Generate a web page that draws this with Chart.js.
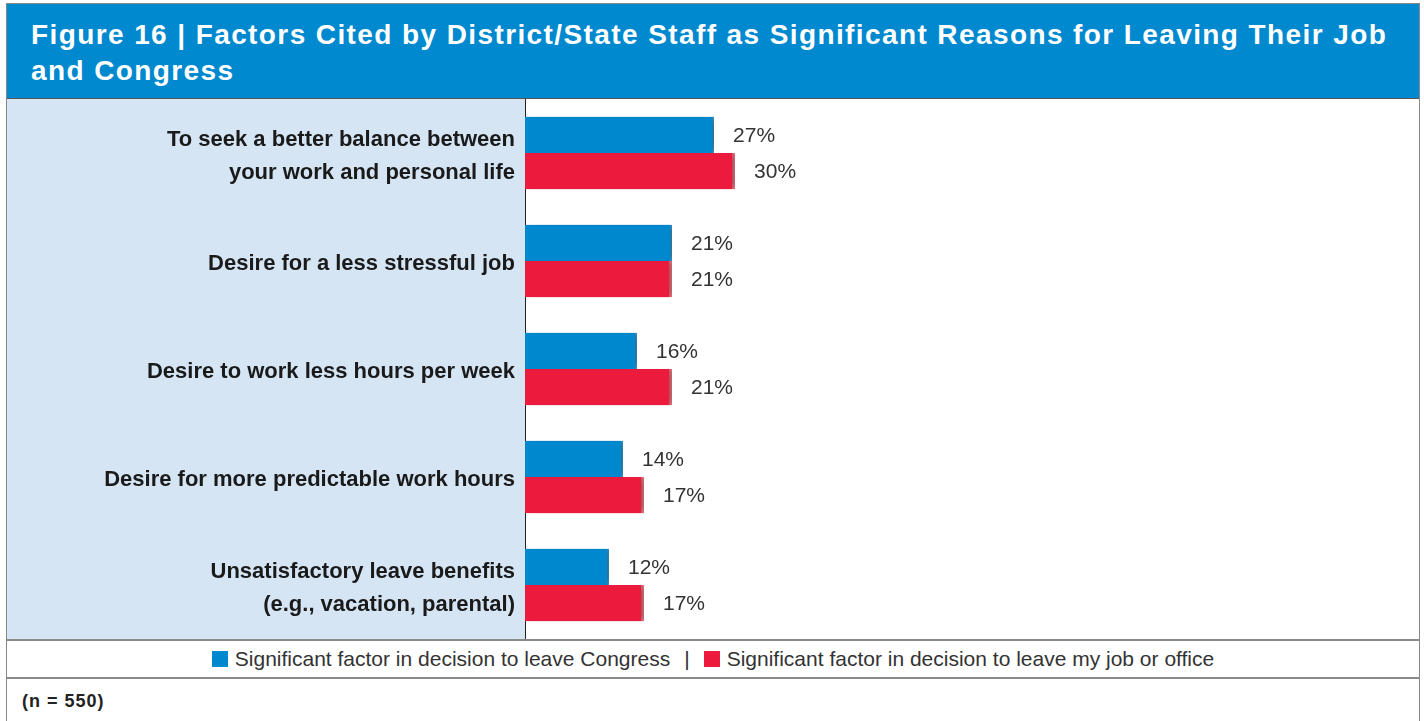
<!DOCTYPE html>
<html>
<head>
<meta charset="utf-8">
<title>Figure 16</title>
<script src="https://cdn.jsdelivr.net/npm/chart.js@4"></script>
<style>
  html, body { margin: 0; padding: 0; background: #fff; }
  body { width: 1424px; height: 721px; position: relative; overflow: hidden; }
  #frame {
    position: absolute; left: 6px; top: 3px; width: 1412px; height: 730px;
    border: 1px solid #888;
  }
  #title {
    height: 95px; background: #0089cf; border-bottom: 1px solid #555;
    color: #fff; font-family: "Liberation Sans", Arial, sans-serif; font-weight: bold;
    font-size: 28px; letter-spacing: 1.4px; line-height: 36px; padding: 13px 10px 0 24px; box-sizing: border-box;
    white-space: nowrap;
  }
  #chartBox { position: relative; height: 540px; width: 1412px; }
  #legend {
    height: 36px; border-top: 2px solid #8a8a8a; border-bottom: 2px solid #8a8a8a;
    display: flex; justify-content: center; align-items: center;
    font-family: "Liberation Sans Narrow", "Arial Narrow", sans-serif; font-size: 21px; color: #333;
  }
  #legend .box { display: inline-block; width: 16px; height: 16px; margin-right: 7px; }
  #legend .sep { margin: 0 14px; }
  #note {
    padding: 12px 0 0 15px; font-family: "Liberation Sans", Arial, sans-serif;
    font-weight: bold; font-size: 18px; letter-spacing: 1px; color: #222;
  }
</style>
</head>
<body>
<div id="frame">
  <div id="title">Figure 16 | Factors Cited by District/State Staff as Significant Reasons for Leaving Their Job<br>and Congress</div>
  <div id="chartBox"><canvas id="chart"></canvas></div>
  <div id="legend"></div>
  <div id="note">(n = 550)</div>
</div>
<script>
// reasons, each split over lines as printed
const reasons = [
  ['To seek a better balance between', 'your work and personal life'],
  'Desire for a less stressful job',
  'Desire to work less hours per week',
  'Desire for more predictable work hours',
  ['Unsatisfactory leave benefits', '(e.g., vacation, parental)']
];
const leaveCongress = [27, 21, 16, 14, 12];
const leaveJob = [30, 21, 21, 17, 17];
const seriesNames = [
  'Significant factor in decision to leave Congress',
  'Significant factor in decision to leave my job or office'
];
const seriesColors = ['#0088cf', '#ec1b3d'];

// light blue panel behind the category labels
const labelPanel = {
  id: 'labelPanel',
  beforeDraw(chart) {
    const { ctx, chartArea } = chart;
    ctx.save();
    ctx.fillStyle = '#d5e5f4';
    ctx.fillRect(0, 0, chartArea.left, chart.height);
    ctx.restore();
  }
};

// soft drop shadow on the bars
const barShadow = {
  id: 'barShadow',
  beforeDatasetDraw(chart) {
    const ctx = chart.ctx;
    ctx.save();
    ctx.shadowColor = 'rgba(0,0,0,0.45)';
    ctx.shadowBlur = 8;
    ctx.shadowOffsetX = 2;
    ctx.shadowOffsetY = 0;
  },
  afterDatasetDraw(chart) {
    chart.ctx.restore();
  }
};

// percentage labels to the right of each bar
const valueLabels = {
  id: 'valueLabels',
  afterDatasetsDraw(chart) {
    const ctx = chart.ctx;
    ctx.save();
    ctx.font = '21px "Liberation Sans Narrow", "Arial Narrow", sans-serif';
    ctx.fillStyle = '#333';
    ctx.textBaseline = 'middle';
    chart.data.datasets.forEach((ds, i) => {
      chart.getDatasetMeta(i).data.forEach((bar, j) => {
        ctx.fillText(ds.data[j] + '%', bar.x + 19, bar.y + 1);
      });
    });
    ctx.restore();
  }
};

new Chart(document.getElementById('chart'), {
  type: 'bar',
  data: {
    labels: reasons,
    datasets: [
      { label: seriesNames[0], data: leaveCongress, backgroundColor: seriesColors[0],
        borderColor: '#3aa3dc', borderWidth: { top: 0, right: 2, bottom: 0, left: 0 }, borderSkipped: 'start' },
      { label: seriesNames[1], data: leaveJob, backgroundColor: seriesColors[1],
        borderColor: '#f47a85', borderWidth: { top: 0, right: 3, bottom: 0, left: 0 }, borderSkipped: 'start' }
    ]
  },
  options: {
    indexAxis: 'y',
    responsive: true,
    maintainAspectRatio: false,
    animation: false,
    layout: { padding: 0 },
    categoryPercentage: 0.67,
    barPercentage: 1.0,
    scales: {
      x: { min: 0, max: 127.7, display: false },
      y: {
        afterFit(scale) {
          scale.width = 518;
          scale.paddingTop = 0;
          scale.paddingBottom = 0;
        },
        grid: { display: false, drawTicks: false },
        border: { display: true, color: '#222', width: 1 },
        ticks: {
          padding: 10,
          labelOffset: 3,
          color: '#1a1a1a',
          font: { family: '"Liberation Sans Narrow", "Arial Narrow", sans-serif', size: 22, weight: 'bold', lineHeight: 1.5 }
        }
      }
    },
    plugins: {
      legend: { display: false },
      tooltip: { enabled: false }
    }
  },
  plugins: [labelPanel, barShadow, valueLabels]
});

// legend row, built from the series names and colours
const legendEl = document.getElementById('legend');
seriesNames.forEach((name, i) => {
  if (i > 0) {
    const sep = document.createElement('span');
    sep.className = 'sep';
    sep.textContent = '|';
    legendEl.appendChild(sep);
  }
  const box = document.createElement('span');
  box.className = 'box';
  box.style.background = seriesColors[i];
  legendEl.appendChild(box);
  const txt = document.createElement('span');
  txt.textContent = name;
  legendEl.appendChild(txt);
});
</script>
</body>
</html>
